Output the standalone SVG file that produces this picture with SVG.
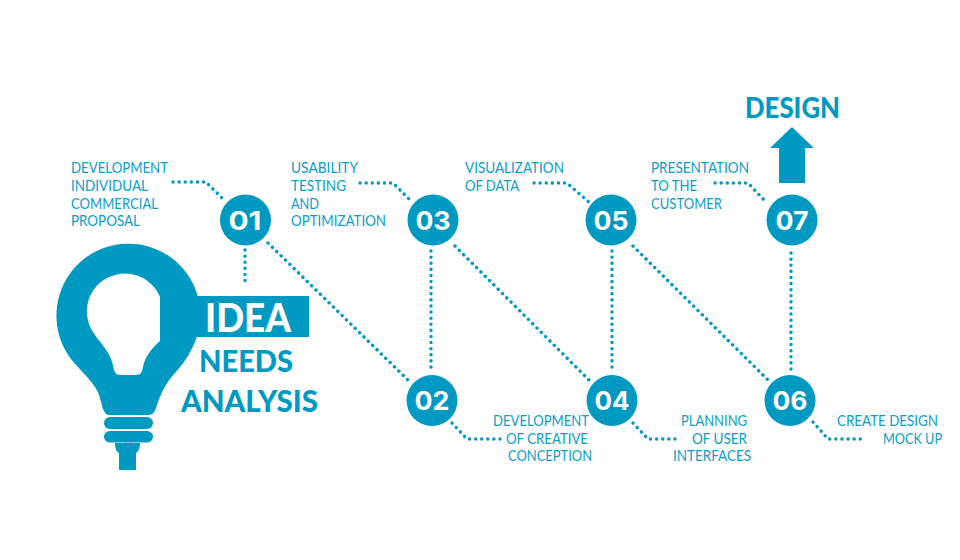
<svg xmlns="http://www.w3.org/2000/svg" width="960" height="560" viewBox="0 0 960 560">
<style>
.fill{fill:#0099c2}
.c{fill:none;stroke:#0099c2;stroke-width:3.400;stroke-linecap:round;stroke-linejoin:round;stroke-dasharray:0.1 6}
.num{font-family:Inter,"Liberation Sans",sans-serif;font-weight:700;font-size:26px;fill:#fff;text-anchor:middle}
.lab{font-family:Lato,"Liberation Sans",sans-serif;font-size:14.500px;fill:#0b9ec6}
.big{font-family:Lato,"Liberation Sans",sans-serif;font-weight:900;fill:#0099c2}
</style>
<rect width="960" height="560" fill="#fff"/>
<g id="connectors">
<path class="c" d="M173 182H206L224 200"/>
<path class="c" d="M360 183H393L410 200"/>
<path class="c" d="M534 183H567L590 203"/>
<path class="c" d="M715 183H748L765 201"/>
<path class="c" d="M245 250V284"/>
<path class="c" d="M268 243L409 381"/>
<path class="c" d="M431 251V369"/>
<path class="c" d="M455 246L589 380"/>
<path class="c" d="M612 251V369"/>
<path class="c" d="M633 246L769 381"/>
<path class="c" d="M791 253V369"/>
<path class="c" d="M452 423L467 439H502"/>
<path class="c" d="M633 423L648 439H678"/>
<path class="c" d="M813 422L828 439H863"/>
</g>
<g id="bulb">
<path class="fill" fill-rule="evenodd" d="M108 415C103 413 102 405 100 398C97 387 90 380 77 366A72 72 0 1 1 199 330C195 345 187 360 175 373C166 383 161 393 157 405C155 411 154 415 148 415ZM160 297A38 38 0 1 0 95 335C102 345 110 352 113 365C114 372 116 375 120 375H136C141 375 142 372 143 367C145 357 151 349 160 341Z"/>
<rect class="fill" x="190" y="296" width="119" height="41"/>
<rect class="fill" x="104" y="417" width="49" height="12" rx="6"/>
<rect class="fill" x="104" y="431" width="49" height="11.500" rx="5.700"/>
<path class="fill" d="M115 443H140C140 449 138 452 136 453V470H119V453C117 452 115 449 115 443Z"/>
<text x="205" y="332" font-size="40" class="big" style="fill:#fff" textLength="86" lengthAdjust="spacingAndGlyphs">IDEA</text>
<text x="199" y="372" font-size="31" class="big" textLength="94" lengthAdjust="spacingAndGlyphs">NEEDS</text>
<text x="181" y="412" font-size="31" class="big" textLength="137" lengthAdjust="spacingAndGlyphs">ANALYSIS</text>
</g>
<g id="design">
<text x="745" y="118" font-size="28" class="big" textLength="95" lengthAdjust="spacingAndGlyphs">DESIGN</text>
<path class="fill" d="M792 127L814 148H805V183H779V148H770Z"/>
</g>
<g id="n01">
<circle class="fill" cx="245.500" cy="220" r="25.500"/>
<text class="num" x="245" y="229.500" textLength="33" lengthAdjust="spacingAndGlyphs">01</text>
<text class="lab" x="71" y="173" textLength="97" lengthAdjust="spacingAndGlyphs">DEVELOPMENT</text>
<text class="lab" x="71" y="190.500" textLength="77" lengthAdjust="spacingAndGlyphs">INDIVIDUAL</text>
<text class="lab" x="71" y="208.500" textLength="87" lengthAdjust="spacingAndGlyphs">COMMERCIAL</text>
<text class="lab" x="71" y="226" textLength="69" lengthAdjust="spacingAndGlyphs">PROPOSAL</text>
</g>
<g id="n02">
<circle class="fill" cx="432" cy="400.500" r="25.500"/>
<text class="num" x="432" y="410" textLength="35" lengthAdjust="spacingAndGlyphs">02</text>
<text class="lab" x="493" y="426" textLength="96" lengthAdjust="spacingAndGlyphs">DEVELOPMENT</text>
<text class="lab" x="506" y="443.500" textLength="82" lengthAdjust="spacingAndGlyphs">OF CREATIVE</text>
<text class="lab" x="508" y="461" textLength="84" lengthAdjust="spacingAndGlyphs">CONCEPTION</text>
</g>
<g id="n03">
<circle class="fill" cx="433" cy="220" r="25.500"/>
<text class="num" x="433" y="229.500" textLength="35" lengthAdjust="spacingAndGlyphs">03</text>
<text class="lab" x="291" y="173" textLength="67" lengthAdjust="spacingAndGlyphs">USABILITY</text>
<text class="lab" x="291" y="190.500" textLength="55" lengthAdjust="spacingAndGlyphs">TESTING</text>
<text class="lab" x="291" y="208.500" textLength="28" lengthAdjust="spacingAndGlyphs">AND</text>
<text class="lab" x="291" y="226" textLength="95" lengthAdjust="spacingAndGlyphs">OPTIMIZATION</text>
</g>
<g id="n04">
<circle class="fill" cx="612" cy="400.500" r="25.500"/>
<text class="num" x="612" y="410" textLength="35" lengthAdjust="spacingAndGlyphs">04</text>
<text class="lab" x="681" y="426" textLength="66" lengthAdjust="spacingAndGlyphs">PLANNING</text>
<text class="lab" x="692" y="443.500" textLength="55" lengthAdjust="spacingAndGlyphs">OF USER</text>
<text class="lab" x="673" y="461" textLength="78" lengthAdjust="spacingAndGlyphs">INTERFACES</text>
</g>
<g id="n05">
<circle class="fill" cx="611" cy="220" r="25.500"/>
<text class="num" x="611" y="229.500" textLength="35" lengthAdjust="spacingAndGlyphs">05</text>
<text class="lab" x="465" y="173" textLength="99" lengthAdjust="spacingAndGlyphs">VISUALIZATION</text>
<text class="lab" x="465" y="190.500" textLength="54" lengthAdjust="spacingAndGlyphs">OF DATA</text>
</g>
<g id="n06">
<circle class="fill" cx="790" cy="400.500" r="25.500"/>
<text class="num" x="790" y="410" textLength="35" lengthAdjust="spacingAndGlyphs">06</text>
<text class="lab" x="837" y="426" textLength="101" lengthAdjust="spacingAndGlyphs">CREATE DESIGN</text>
<text class="lab" x="883" y="443.500" textLength="59" lengthAdjust="spacingAndGlyphs">MOCK UP</text>
</g>
<g id="n07">
<circle class="fill" cx="792" cy="220" r="25.500"/>
<text class="num" x="792" y="229.500" textLength="33" lengthAdjust="spacingAndGlyphs">07</text>
<text class="lab" x="651" y="173" textLength="98" lengthAdjust="spacingAndGlyphs">PRESENTATION</text>
<text class="lab" x="651" y="190.500" textLength="46" lengthAdjust="spacingAndGlyphs">TO THE</text>
<text class="lab" x="651" y="208.500" textLength="71" lengthAdjust="spacingAndGlyphs">CUSTOMER</text>
</g>
</svg>
